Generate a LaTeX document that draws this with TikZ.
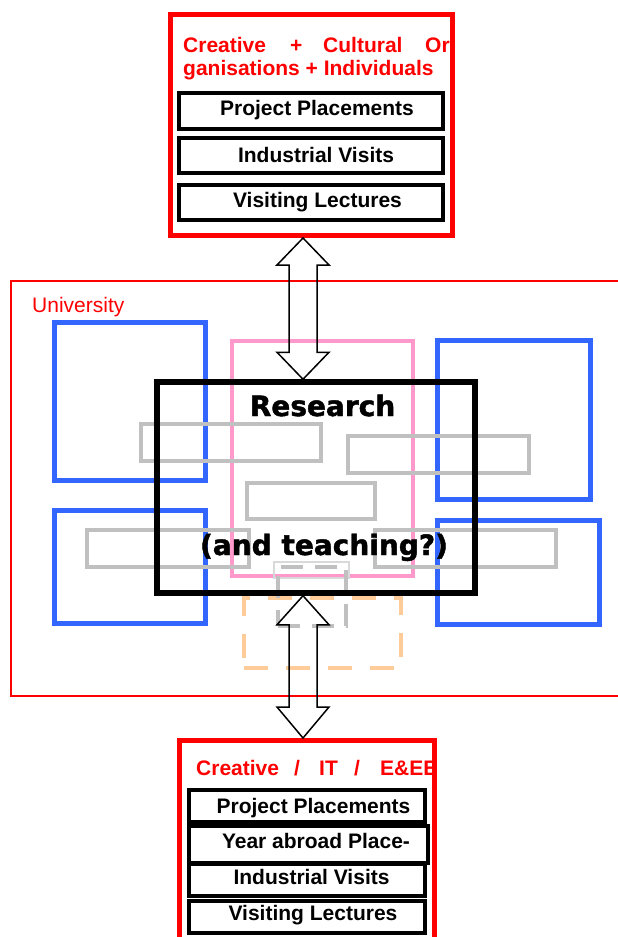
\documentclass[tikz,border=0pt]{standalone}
\usepackage{fontspec}
\setmainfont{Liberation Sans}
\newfontfamily\dejavu[BoldFeatures={FakeBold=1.6}]{DejaVu Sans}
\usetikzlibrary{calc}
\definecolor{bblue}{HTML}{3366FF}
\definecolor{ppink}{HTML}{FF99CC}
\definecolor{ggray}{HTML}{C0C0C0}
\definecolor{lgray}{HTML}{D9D9D9}
\definecolor{oorange}{HTML}{FFCC99}
\definecolor{rred}{HTML}{FF0000}
\tikzset{
  anybox/.style={draw, rectangle, inner sep=0pt},
  unibox/.style={anybox, draw=rred, line width=2pt},
  bluebox/.style={anybox, draw=bblue, line width=5pt},
  pinkbox/.style={anybox, draw=ppink, line width=4pt},
  graybox/.style={anybox, draw=ggray, line width=4.5pt},
  thingray/.style={anybox, draw=lgray, line width=1.5pt},
  graydash/.style={anybox, draw=ggray, line width=4.5pt, dash pattern=on 22pt off 12pt},
  orangedash/.style={anybox, draw=oorange, line width=4.5pt, dash pattern=on 24pt off 18pt},
  resbox/.style={anybox, draw=black, line width=5.5pt},
  redbox/.style={anybox, draw=rred, line width=5pt},
  itembox/.style={anybox, draw=black, line width=4.5pt},
  itemtext/.style={inner sep=0pt, anchor=base, font=\fontsize{21}{25}\selectfont\bfseries},
  headtext/.style={inner sep=0pt, anchor=base west, text=rred, font=\fontsize{21}{25}\selectfont\bfseries},
  unitext/.style={inner sep=0pt, anchor=base west, text=rred, font=\fontsize{21}{25}\selectfont},
  restext/.style={inner sep=0pt, anchor=base, font=\dejavu\fontsize{28}{32}\selectfont\bfseries},
  blockarrow/.style={draw=black, line width=1.5pt, line join=miter}
}
\begin{document}
\begin{tikzpicture}[x=1pt,y=-1pt]
\clip (0,0) rectangle (618,937);
\fill[white] (0,0) rectangle (618,937);

% University frame
\node[unibox, minimum width=619, minimum height=415] (uni) at (320.5,488.5) {};
\node[unitext] (unilabel) at (32,312) {University};

% blue boxes
\node[bluebox, minimum width=151, minimum height=158] (b1) at (130,401.5) {};
\node[bluebox, minimum width=151, minimum height=113] (b2) at (130,567) {};
\node[bluebox, minimum width=153, minimum height=159] (b3) at (514,420) {};
\node[bluebox, minimum width=162, minimum height=104] (b4) at (518.5,572.5) {};

% pink box
\node[pinkbox, minimum width=181, minimum height=235] (pink) at (322.5,458.5) {};

% orange dashed box
\node[orangedash, minimum width=157, minimum height=70] (orange) at (322.5,633) {};

% gray boxes
\node[graybox, minimum width=180, minimum height=37] (g1) at (231,442.5) {};
\node[graybox, minimum width=181, minimum height=37] (g2) at (438.5,454.5) {};
\node[graybox, minimum width=128, minimum height=36] (g3) at (311,501) {};
\node[graybox, minimum width=162, minimum height=37] (g4) at (168,548.5) {};
\node[graybox, minimum width=181, minimum height=37] (g5) at (465.5,548.5) {};
\node[thingray, minimum width=75, minimum height=16] (g6) at (311.5,570) {};
\node[graydash, minimum width=68, minimum height=59] (g7) at (312,596.5) {};

% research box
\node[resbox, minimum width=318, minimum height=211] (research) at (316,487.5) {};
\node[restext] (restitle) at (322.5,416) {Research};
\node[restext] (resteach) at (324,555) {(and teaching?)};

% top organisation box
\node[redbox, minimum width=282, minimum height=221] (org) at (311.5,125) {};
\node[headtext] (h1) at (183,52) {Creative};
\node[headtext] (h2) at (290,52) {+};
\node[headtext] (h3) at (323,52) {Cultural};
\node[headtext] (h4) at (425,52) {Or};
\node[headtext] (h5) at (183,75) {ganisations + Individuals};
\node[itembox, minimum width=264, minimum height=36] (pp1) at (311,111) {};
\node[itembox, minimum width=264, minimum height=35] (iv1) at (311,155.5) {};
\node[itembox, minimum width=264, minimum height=35] (vl1) at (311,202.5) {};
\node[itemtext] (pp1t) at (317,115) {Project Placements};
\node[itemtext] (iv1t) at (316,162) {Industrial Visits};
\node[itemtext] (vl1t) at (317.5,207) {Visiting Lectures};

% bottom student box
\node[redbox, minimum width=255, minimum height=219.5] (bot) at (307,850.25) {};
\begin{scope}
  \clip ($(bot.north west)+(4,4)$) rectangle ($(bot.north east)+(-5,60)$);
  \node[headtext] (k1) at (196,775) {Creative};
  \node[headtext] (k2) at (294,775) {/};
  \node[headtext] (k3) at (319,775) {IT};
  \node[headtext] (k4) at (354,775) {/};
  \node[headtext] (k5) at (380,775) {E\&EE};
\end{scope}
\node[itembox, minimum width=236, minimum height=32] (pp2) at (307,806) {};
\node[itembox, minimum width=236, minimum height=32] (iv2) at (307,880) {};
\node[itembox, minimum width=236, minimum height=32] (vl2) at (307,917) {};
\node[itembox, minimum width=239, minimum height=37] (ya2) at (308.5,844.5) {};
\node[itemtext] (pp2t) at (313.5,813) {Project Placements};
\node[itemtext] (ya2t) at (316,848) {Year abroad Place-};
\node[itemtext] (iv2t) at (311.5,884) {Industrial Visits};
\node[itemtext] (vl2t) at (313,920) {Visiting Lectures};

% double block arrows
\coordinate (ax) at (303,0);
\coordinate (A) at (org.south -| ax);
\coordinate (B) at (research.north -| ax);
\coordinate (C) at (research.south -| ax);
\coordinate (D) at (bot.north -| ax);
\draw[blockarrow] (A) -- ++(26,27) -- ++(-12,0) -- ($(B)+(14,-27)$) -- ++(12,0) -- (B)
  -- ++(-26,-27) -- ++(12,0) -- ($(A)+(-14,27)$) -- ++(-12,0) -- cycle;
\draw[blockarrow] (C) -- ++(26,29) -- ++(-12,0) -- ($(D)+(14,-31)$) -- ++(12,0) -- (D)
  -- ++(-26,-31) -- ++(12,0) -- ($(C)+(-14,29)$) -- ++(-12,0) -- cycle;
\end{tikzpicture}
\end{document}
